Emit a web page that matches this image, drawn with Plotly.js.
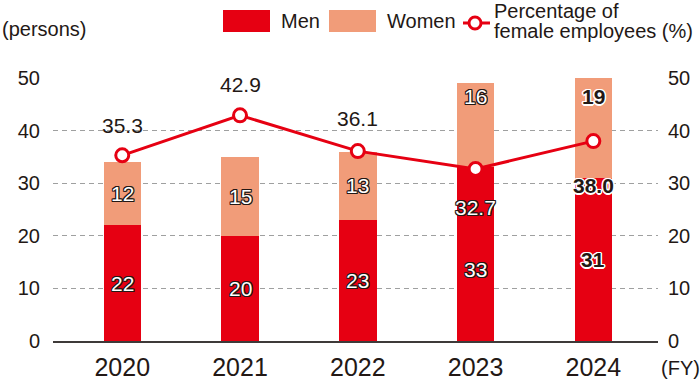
<!DOCTYPE html>
<html>
<head>
<meta charset="utf-8">
<script src="https://cdn.plot.ly/plotly-3.0.1.min.js"></script>
<style>html,body{margin:0;padding:0;background:#fff;}#chart{width:700px;height:390px;}</style>
</head>
<body>
<div id="chart"></div>
<script>
// ---- data ----
const years = ['2020', '2021', '2022', '2023', '2024'];
const men = [22, 20, 23, 33, 31];
const women = [12, 15, 13, 16, 19];
const femalePct = [35.3, 42.9, 36.1, 32.7, 38.0];
const yTicks = [0, 10, 20, 30, 40, 50];

// ---- styles / label offsets (pixels) ----
const RED = '#e60012', SALMON = '#f19c79', INK = '#231815';
const FONT = 'Liberation Sans, Arial, Helvetica, sans-serif';
const menShift = [0, 0, 0, -15, 0];
const womenShift = [0, 0, 0, 29, 31];
const pctShift = [30, 31, 33, -38, -44];
const boldIdx = 4;

const L = 53, R = 658, T = 78, B = 341;
const px = x => (x - L) / (R - L);
const py = y => (B - y) / (B - T);

const outlineDark = '1px 1px 0 ' + INK + ', -1px -1px 0 ' + INK + ', 1px -1px 0 ' + INK + ', -1px 1px 0 ' + INK + ', 0 1px 0 ' + INK + ', 0 -1px 0 ' + INK + ', 1px 0 0 ' + INK + ', -1px 0 0 ' + INK;
const outlineWhite = '1px 1px 0 #fff, -1px -1px 0 #fff, 1px -1px 0 #fff, -1px 1px 0 #fff, 0 1.5px 0 #fff, 0 -1.5px 0 #fff, 1.5px 0 0 #fff, -1.5px 0 0 #fff';

function barFont(i) {
  if (i === boldIdx) return {family: FONT, size: 21, color: INK, weight: 'bold', shadow: outlineWhite};
  return {family: FONT, size: 21, color: '#fff', shadow: outlineDark};
}

const traces = [
  {type: 'bar', x: years, y: men, name: 'Men', marker: {color: RED}, width: 0.318, hoverinfo: 'skip', showlegend: false},
  {type: 'bar', x: years, y: women, name: 'Women', marker: {color: SALMON}, width: 0.318, hoverinfo: 'skip', showlegend: false},
  {type: 'scatter', x: years, y: femalePct, yaxis: 'y2', mode: 'lines+markers', name: 'Percentage of female employees (%)',
   line: {color: RED, width: 3}, marker: {size: 13, color: '#fff', line: {color: RED, width: 3}},
   cliponaxis: false, hoverinfo: 'skip', showlegend: false}
];

const annotations = [];
years.forEach((yr, i) => {
  // category axis: annotation x is the category's serial index
  annotations.push({x: i, y: men[i] / 2, xref: 'x', yref: 'y', text: String(men[i]), showarrow: false,
    yshift: menShift[i], font: barFont(i)});
  annotations.push({x: i, y: men[i] + women[i] / 2, xref: 'x', yref: 'y', text: String(women[i]), showarrow: false,
    yshift: womenShift[i], font: barFont(i)});
  const pf = (i === 3) ? {family: FONT, size: 21, color: '#fff', shadow: outlineDark}
           : (i === boldIdx) ? {family: FONT, size: 21, color: INK, weight: 'bold', shadow: outlineWhite}
           : {family: FONT, size: 21, color: INK};
  annotations.push({x: i, y: femalePct[i], xref: 'x', yref: 'y2', text: femalePct[i].toFixed(1), showarrow: false,
    yshift: pctShift[i], font: pf});
});

// axis unit notes
annotations.push({xref: 'paper', yref: 'paper', x: px(0), y: py(29), xanchor: 'left', yanchor: 'middle',
  text: '(persons)', showarrow: false, font: {family: FONT, size: 20, color: INK}});
annotations.push({xref: 'paper', yref: 'paper', x: px(680), y: py(368), xanchor: 'center', yanchor: 'middle',
  text: '(FY)', showarrow: false, font: {family: FONT, size: 20, color: INK}});

// legend (drawn)
const legFont = {family: FONT, size: 20, color: INK};
annotations.push({xref: 'paper', yref: 'paper', x: px(279), y: py(21), xanchor: 'left', yanchor: 'middle', text: 'Men', showarrow: false, font: legFont});
annotations.push({xref: 'paper', yref: 'paper', x: px(385), y: py(21), xanchor: 'left', yanchor: 'middle', text: 'Women', showarrow: false, font: legFont});
annotations.push({xref: 'paper', yref: 'paper', x: px(493), y: py(11), xanchor: 'left', yanchor: 'middle', text: 'Percentage of', showarrow: false, font: legFont, borderpad: 0});
annotations.push({xref: 'paper', yref: 'paper', x: px(493), y: py(31), xanchor: 'left', yanchor: 'middle', text: 'female employees (%)', showarrow: false, font: legFont, borderpad: 0});

const shapes = [
  {type: 'rect', xref: 'paper', yref: 'paper', x0: px(223), x1: px(270), y0: py(10), y1: py(32), fillcolor: RED, line: {width: 0}},
  {type: 'rect', xref: 'paper', yref: 'paper', x0: px(329), x1: px(376), y0: py(10), y1: py(32), fillcolor: SALMON, line: {width: 0}},
  {type: 'line', xref: 'paper', yref: 'paper', x0: px(463), x1: px(490), y0: py(23), y1: py(23), line: {color: RED, width: 3}},
  {type: 'circle', xref: 'paper', yref: 'paper', x0: px(469), x1: px(481), y0: py(17), y1: py(29), fillcolor: '#fff', line: {color: RED, width: 3}}
];

const layout = {
  width: 700, height: 390,
  margin: {l: L, r: 700 - R, t: T, b: 390 - B, pad: 0},
  paper_bgcolor: '#fff', plot_bgcolor: '#fff',
  barmode: 'stack',
  showlegend: false,
  font: {family: FONT, color: INK},
  xaxis: {type: 'category', categoryarray: years, range: [-0.588, 4.549], showline: true, linecolor: '#3e3a39', linewidth: 1.5,
    ticks: '', showgrid: false, zeroline: false, tickfont: {size: 25, color: INK}, ticklabelstandoff: 3, fixedrange: true},
  yaxis: {range: [0, 50], tickvals: yTicks, showgrid: true, gridcolor: '#9fa0a0', griddash: '5px,4px', gridwidth: 1.2,
    zeroline: false, showline: false, ticks: '', tickfont: {size: 20, color: INK}, ticklabelstandoff: 12, fixedrange: true},
  yaxis2: {range: [0, 50], tickvals: yTicks, overlaying: 'y', side: 'right', showgrid: false, zeroline: false, showline: false,
    ticks: '', tickfont: {size: 20, color: INK}, ticklabelstandoff: 9, fixedrange: true},
  annotations: annotations,
  shapes: shapes
};

Plotly.newPlot('chart', traces, layout, {displayModeBar: false, staticPlot: true});
</script>
</body>
</html>
